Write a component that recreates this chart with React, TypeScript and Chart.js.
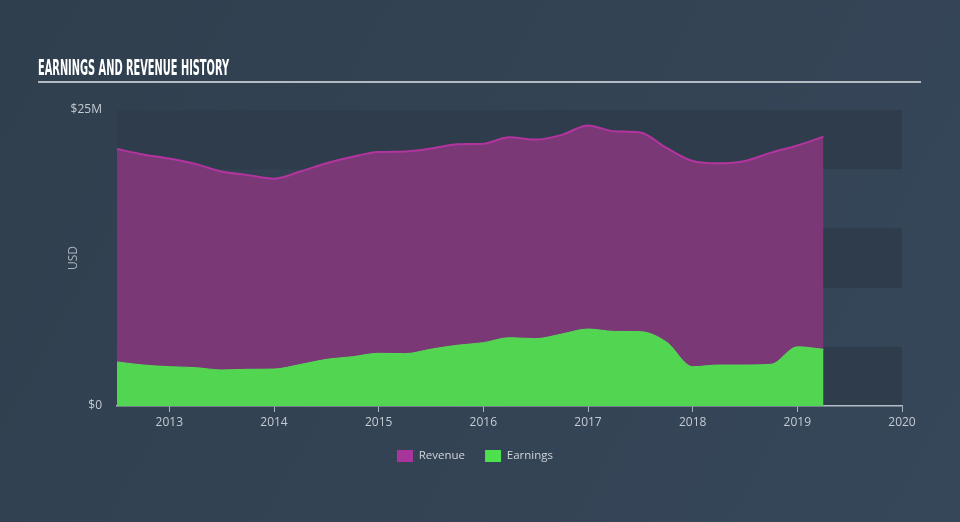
import { useEffect, useRef } from 'react';
import { Chart, registerables } from 'chart.js';

Chart.register(...registerables);

const TITLE = 'EARNINGS AND REVENUE HISTORY';
const periods = [
  2012.5, 2012.75, 2013.0, 2013.25, 2013.5, 2013.75, 2014.0, 2014.25,
  2014.5, 2014.75, 2015.0, 2015.25, 2015.5, 2015.75, 2016.0, 2016.25,
  2016.5, 2016.75, 2017.0, 2017.25, 2017.5, 2017.75, 2018.0, 2018.25,
  2018.5, 2018.75, 2019.0, 2019.25,
];
// USD millions
const revenue = [
  21.7, 21.25, 20.9, 20.45, 19.8, 19.5, 19.2, 19.8,
  20.5, 21.05, 21.45, 21.5, 21.75, 22.1, 22.15, 22.7,
  22.5, 22.9, 23.7, 23.2, 23.1, 21.8, 20.7, 20.5,
  20.7, 21.4, 22.0, 22.75,
];
const earnings = [
  3.72, 3.46, 3.32, 3.24, 3.04, 3.1, 3.12, 3.5,
  3.94, 4.16, 4.45, 4.42, 4.8, 5.13, 5.35, 5.77,
  5.69, 6.08, 6.5, 6.3, 6.28, 5.4, 3.32, 3.46,
  3.46, 3.52, 5.0, 4.79,
];
const yearTicks = [2013, 2014, 2015, 2016, 2017, 2018, 2019, 2020];
const yMax = 25;
const yLabels: Record<number, string> = { 0: '$0', 25: '$25M' };

const FONT = '"Open Sans", "DejaVu Sans", sans-serif';

const decorPlugin = {
  id: 'decor',
  beforeDraw(chart: any) {
    const { ctx, width, height, chartArea } = chart;
    ctx.save();
    const g = ctx.createLinearGradient(0, 0, width, height);
    g.addColorStop(0, '#303f4e');
    g.addColorStop(1, '#36475a');
    ctx.fillStyle = g;
    ctx.fillRect(0, 0, width, height);

    const y = chart.scales.y;
    ctx.fillStyle = '#2e3c4b';
    for (let v = 0; v < yMax; v += 10) {
      const top = y.getPixelForValue(v + 5);
      const bot = y.getPixelForValue(v);
      ctx.fillRect(chartArea.left, top, chartArea.right - chartArea.left, bot - top);
    }

    // title
    ctx.fillStyle = '#ffffff';
    ctx.font = 'bold 20.5px "Liberation Sans Narrow", "DejaVu Sans Condensed", "Liberation Sans", sans-serif';
    ctx.textBaseline = 'alphabetic';
    ctx.textAlign = 'left';
    const w = ctx.measureText(TITLE).width;
    ctx.translate(38, 74.5);
    ctx.scale(191 / w, 1);
    ctx.fillText(TITLE, 0, 0);
    ctx.restore();

    ctx.save();
    ctx.strokeStyle = '#b4bbc3';
    ctx.lineWidth = 2;
    ctx.beginPath();
    ctx.moveTo(38, 82);
    ctx.lineTo(921, 82);
    ctx.stroke();
    ctx.restore();
  },
};

export default function App() {
  const ref = useRef<HTMLCanvasElement | null>(null);
  useEffect(() => {
    if (!ref.current) return;
    const chart = new Chart(ref.current, {
      type: 'line',
      data: {
        datasets: [
          {
            label: 'Revenue',
            data: periods.map((p, i) => ({ x: p, y: revenue[i] })),
            borderColor: '#b3349e',
            backgroundColor: '#7a3976',
            borderWidth: 2,
            fill: 'origin',
            pointRadius: 0,
            cubicInterpolationMode: 'monotone',
            order: 1,
          },
          {
            label: 'Earnings',
            data: periods.map((p, i) => ({ x: p, y: earnings[i] })),
            borderColor: '#55da55',
            backgroundColor: '#52d652',
            borderWidth: 1,
            fill: 'origin',
            pointRadius: 0,
            cubicInterpolationMode: 'monotone',
            order: 0,
          },
        ],
      },
      options: {
        animation: false,
        responsive: false,
        devicePixelRatio: 1,
        layout: { padding: { left: 48, right: 58, top: 110, bottom: 50 } },
        scales: {
          x: {
            type: 'linear',
            min: 2012.5,
            max: 2020,
            afterBuildTicks: (scale: any) => {
              scale.ticks = yearTicks.map((v) => ({ value: v }));
            },
            afterFit: (scale: any) => {
              scale.height = 24;
            },
            ticks: {
              color: '#c5cbd2',
              font: { family: FONT, size: 12 },
              padding: 3,
              maxRotation: 0,
              autoSkip: false,
              callback: (v: any) => String(v),
            },
            grid: {
              drawOnChartArea: false,
              drawTicks: true,
              tickLength: 6,
              color: '#aab3bc',
            },
            border: { display: true, color: '#b4bbc3', width: 1.5 },
          },
          y: {
            min: 0,
            max: yMax,
            ticks: {
              stepSize: 5,
              color: '#c5cbd2',
              font: { family: FONT, size: 12 },
              padding: 15,
              callback: (v: any) => yLabels[v as number] ?? '',
            },
            afterFit: (scale: any) => {
              scale.width = 69;
            },
            grid: { display: false, drawTicks: false },
            border: { display: false },
            title: {
              display: true,
              text: 'USD',
              color: '#aab2bb',
              font: { family: FONT, size: 12 },
              padding: { top: 18, bottom: 0 },
            },
          },
        },
        plugins: {
          legend: {
            position: 'bottom',
            labels: {
              boxWidth: 16,
              boxHeight: 12,
              padding: 20,
              color: '#d0d5da',
              font: { family: FONT, size: 11.5 },
              sort: (a: any, b: any) => a.datasetIndex - b.datasetIndex,
              generateLabels: () => [
                { text: 'Revenue', fillStyle: '#a8359c', strokeStyle: '#a8359c', lineWidth: 0, datasetIndex: 0, fontColor: '#d0d5da' },
                { text: 'Earnings', fillStyle: '#4fe04f', strokeStyle: '#4fe04f', lineWidth: 0, datasetIndex: 1, fontColor: '#d0d5da' },
              ],
            },
          },
          tooltip: { enabled: false },
        },
      } as any,
      plugins: [decorPlugin],
    });
    return () => chart.destroy();
  }, []);
  return (
    <div style={{ position: 'absolute', left: 0, top: 0, width: 960, height: 522 }}>
      <canvas ref={ref} width={960} height={522} />
    </div>
  );
}
